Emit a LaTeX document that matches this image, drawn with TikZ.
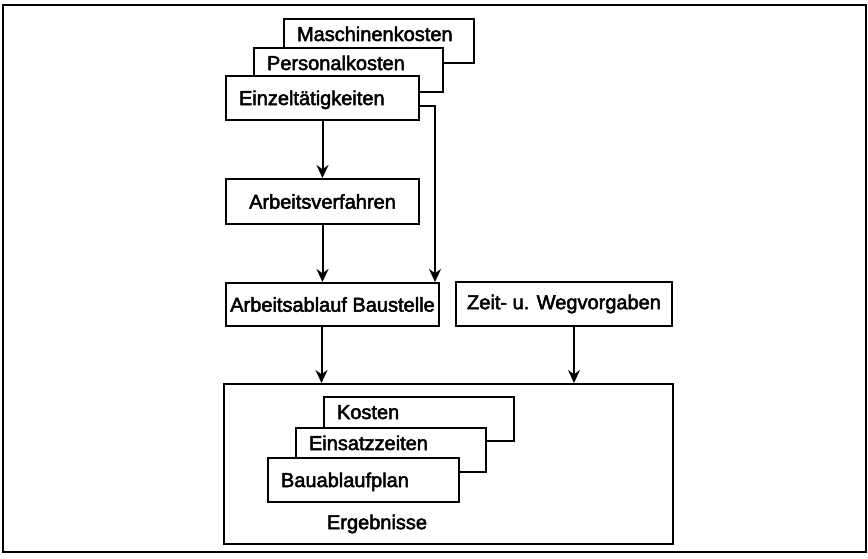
\documentclass[tikz,border=0pt]{standalone}
\usepackage{fontspec}
\newfontfamily\diagfont{Liberation Sans}[FakeBold=2.5]
\usetikzlibrary{positioning}
\usetikzlibrary{calc}
\usetikzlibrary{arrows.meta}
\tikzset{every picture/.style={line width=2pt},
  backcard/.style={draw,fill=white,anchor=north west,align=left,inner xsep=13pt,inner ysep=0pt,text height=22pt,text depth=22pt},
  frontcard/.style={draw,fill=white,anchor=north west,align=left,inner xsep=13pt,inner ysep=0pt,text height=29pt,text depth=15pt},
  procbox/.style={draw,fill=white,anchor=north west,align=center,inner sep=0pt},
  flow/.style={-{Stealth[length=13pt,width=12pt]}}}

\begin{document}
\begin{tikzpicture}[x=1pt,y=-1pt,font=\diagfont\fontsize{20}{23}\selectfont]
\useasboundingbox (0,0) rectangle (868,558);
\draw (3,5) rectangle (866,552);
% Eingaben
\node[backcard,text width=164pt] (masch) at (283,18) {Maschinenkosten};
\node[backcard,text width=163pt] (personal) at (253,47) {Personalkosten};
\node[frontcard,text width=167pt] (einzel) at (225,75) {Einzelt\"atigkeiten};
\node[procbox,minimum width=193pt,minimum height=45pt] (verfahren) at (225,178) {Arbeitsverfahren};
\node[procbox,minimum width=213pt,minimum height=43pt] (ablauf) at (225,282) {Arbeitsablauf Baustelle};
\node[procbox,minimum width=216pt,minimum height=44pt] (zeit) at (455,281) {Zeit- u. Wegvorgaben};
% Ergebnisse
\node[draw,anchor=north west,minimum width=449pt,minimum height=160pt,inner sep=0pt] (ergeb) at (223,383) {};
\node[backcard,text width=164pt] (kosten) at (323,396) {Kosten};
\node[backcard,text width=164pt] (einsatz) at (295,427) {Einsatzzeiten};
\node[frontcard,text width=165pt] (plan) at (267,457) {Bauablaufplan};
\node (ergtext) at (377,524) {Ergebnisse};
% Pfeile
\draw[flow] (einzel.south) -- (verfahren.north);
\draw[flow] (verfahren.south) -- (verfahren.south |- ablauf.north);
\draw[flow] ([yshift=-7.5pt]einzel.east) -| ([xshift=-5pt]ablauf.north east);
\draw[flow] ([xshift=-11pt]ablauf.south) -- ([xshift=-11pt]ablauf.south |- ergeb.north);
\draw[flow] ([xshift=10pt]zeit.south) -- ([xshift=10pt]zeit.south |- ergeb.north);
\end{tikzpicture}
\end{document}
